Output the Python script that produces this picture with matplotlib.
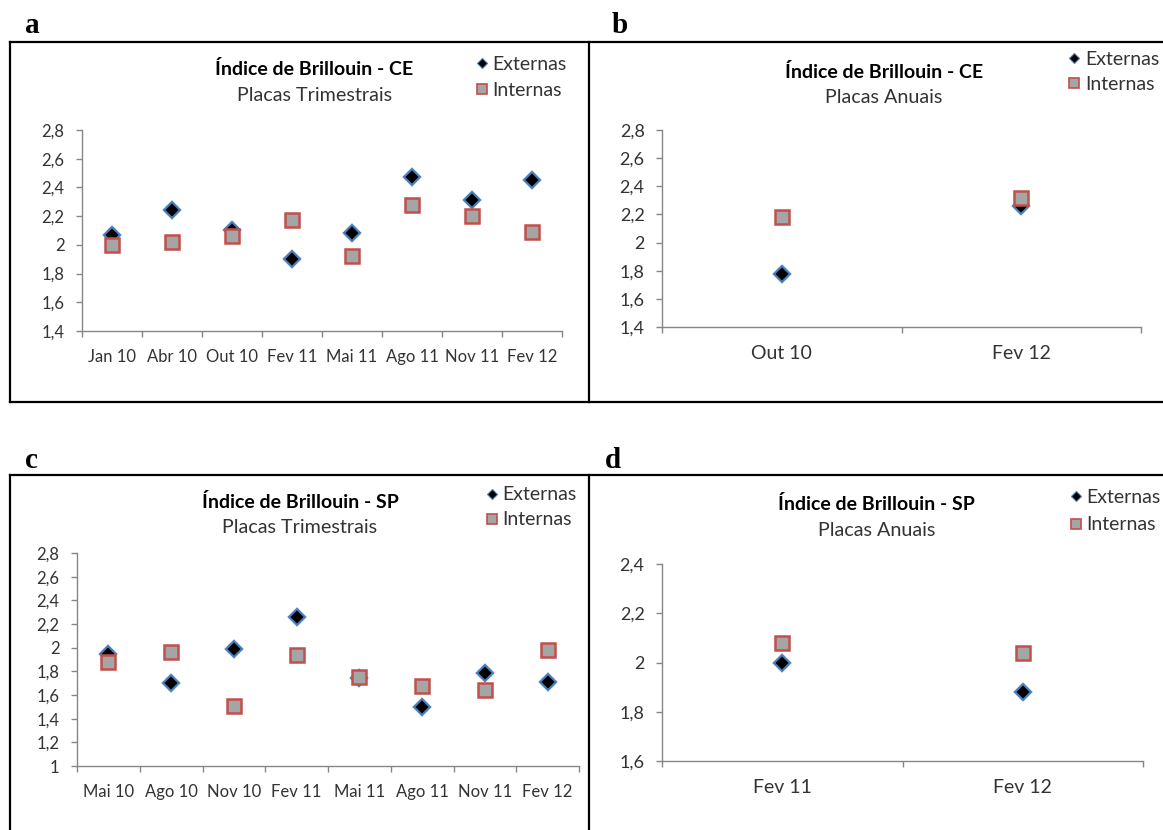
import numpy as np
import matplotlib
matplotlib.use("Agg")
import matplotlib.pyplot as plt
from matplotlib.lines import Line2D
from matplotlib.ticker import FuncFormatter

# ---- dados ----
cats_a = ["Jan 10", "Abr 10", "Out 10", "Fev 11", "Mai 11", "Ago 11", "Nov 11", "Fev 12"]
ext_a = [2.07, 2.24, 2.10, 1.90, 2.08, 2.47, 2.31, 2.45]
int_a = [2.00, 2.02, 2.06, 2.17, 1.92, 2.28, 2.20, 2.09]

cats_b = ["Out 10", "Fev 12"]
ext_b = [1.78, 2.26]
int_b = [2.18, 2.32]

cats_c = ["Mai 10", "Ago 10", "Nov 10", "Fev 11", "Mai 11", "Ago 11", "Nov 11", "Fev 12"]
ext_c = [1.95, 1.70, 1.99, 2.26, 1.74, 1.50, 1.79, 1.71]
int_c = [1.88, 1.96, 1.51, 1.94, 1.75, 1.68, 1.64, 1.98]

cats_d = ["Fev 11", "Fev 12"]
ext_d = [2.00, 1.88]
int_d = [2.08, 2.04]

W, H = 1163, 830
FONT = "Lato"
AXIS_GRAY = "#868686"
TEXT_GRAY = "#333333"
DIAM_EDGE = "#4a7ebb"
DIAM_GLOW = "#8db3e2"
SQ_FACE = "#a5a5a5"
SQ_EDGE = "#c0504d"

plt.rcParams["font.family"] = [FONT, "DejaVu Sans"]

fig = plt.figure(figsize=(W / 100, H / 100), dpi=100)


def fx(px):
    return px / W


def fy(py):
    return 1 - py / H


def fmt_comma(v, pos):
    s = f"{v:.1f}".rstrip("0").rstrip(".")
    return s.replace(".", ",")


def draw_panel(box, cats, ext, intern, ylim, title, subtitle, title_pos, legend_pos,
               ytick_size=12, xtick_size=12):
    x0, y_top, x1, y_bot = box
    ax = fig.add_axes([fx(x0), fy(y_bot), fx(x1 - x0), (y_bot - y_top) / H])
    n = len(cats)
    xs = np.arange(n)

    # losangos com brilho azul, quadrados cinza com borda vermelha
    ax.plot(xs, ext, ls="none", marker="D", ms=10.5, color=DIAM_GLOW,
            alpha=0.55, mew=0, zorder=3, clip_on=False)
    ax.plot(xs, ext, ls="none", marker="D", ms=8.3, mfc="black", mec=DIAM_EDGE,
            mew=1.5, zorder=4, clip_on=False)
    ax.plot(xs, intern, ls="none", marker="s", ms=9.8, mfc=SQ_FACE, mec=SQ_EDGE,
            mew=1.8, zorder=5, clip_on=False)

    ax.set_xlim(-0.5, n - 0.5)
    ax.set_ylim(*ylim)
    ax.set_yticks(np.round(np.arange(ylim[0], ylim[1] + 0.01, 0.2), 1))
    ax.yaxis.set_major_formatter(FuncFormatter(fmt_comma))

    ax.set_xticks(np.arange(n + 1) - 0.5)
    ax.set_xticklabels([])
    ax.set_xticks(xs, minor=True)
    ax.set_xticklabels(cats, minor=True)

    for side in ("top", "right"):
        ax.spines[side].set_visible(False)
    for side in ("left", "bottom"):
        ax.spines[side].set_color(AXIS_GRAY)
        ax.spines[side].set_linewidth(1.0)

    ax.tick_params(axis="y", which="major", direction="out", length=4.5, width=1.0,
                   color=AXIS_GRAY, pad=8, labelsize=ytick_size, labelcolor=TEXT_GRAY)
    ax.tick_params(axis="x", which="major", direction="out", length=4.5, width=1.0,
                   color=AXIS_GRAY)
    ax.tick_params(axis="x", which="minor", length=0, pad=13, labelsize=xtick_size,
                   labelcolor=TEXT_GRAY)
    ax.patch.set_visible(False)

    tx, tb, sb = title_pos
    fig.text(fx(tx), fy(tb), title, ha="center", va="baseline", fontsize=14,
             fontweight="bold", color="black")
    fig.text(fx(tx), fy(sb), subtitle, ha="center", va="baseline", fontsize=14.2,
             color=TEXT_GRAY)

    mx, tx0, rows = legend_pos
    (ey, eb), (iy, ib) = rows
    fig.add_artist(Line2D([fx(mx)], [fy(ey)], ls="none", marker="D", ms=5.5,
                          mfc="black", mec=DIAM_EDGE, mew=0.8))
    fig.add_artist(Line2D([fx(mx)], [fy(iy)], ls="none", marker="s", ms=7.2,
                          mfc=SQ_FACE, mec=SQ_EDGE, mew=1.2))
    fig.text(fx(tx0), fy(eb), "Externas", ha="left", va="baseline", fontsize=14,
             color=TEXT_GRAY)
    fig.text(fx(tx0), fy(ib), "Internas", ha="left", va="baseline", fontsize=14,
             color=TEXT_GRAY)
    return ax


draw_panel((82, 130, 562, 331), cats_a, ext_a, int_a, (1.4, 2.8),
           "Índice de Brillouin - CE", "Placas Trimestrais", (314.5, 75, 101),
           (482, 492, ((63, 69.5), (89, 96))))
draw_panel((662, 130, 1141, 327), cats_b, ext_b, int_b, (1.4, 2.8),
           "Índice de Brillouin - CE", "Placas Anuais", (884, 78, 103),
           (1074, 1085, ((58, 65), (83, 89.5))), ytick_size=13, xtick_size=14)
draw_panel((77, 553, 579, 766), cats_c, ext_c, int_c, (1.0, 2.8),
           "Índice de Brillouin - SP", "Placas Trimestrais", (300, 508, 533),
           (492, 502, ((494, 500), (519, 525))))
draw_panel((662, 564, 1143, 761), cats_d, ext_d, int_d, (1.6, 2.4),
           "Índice de Brillouin - SP", "Placas Anuais", (876.5, 510, 536),
           (1076, 1086, ((496, 503), (524, 530))), ytick_size=13, xtick_size=14)

# molduras pretas dos quadros
frame_lines = [
    ((10, 1163), (42, 42)),
    ((10, 1163), (402, 402)),
    ((10, 1163), (475, 475)),
    ((10, 10), (42, 402)),
    ((589, 589), (42, 402)),
    ((10, 10), (475, 830)),
    ((589, 589), (475, 830)),
]
for xs_px, ys_px in frame_lines:
    fig.add_artist(Line2D([fx(v) for v in xs_px], [fy(v) for v in ys_px],
                          color="black", lw=1.6, solid_capstyle="projecting"))

# letras dos painéis
for letter, lx, ly in [("a", 25, 33), ("b", 612, 33), ("c", 25, 468), ("d", 605, 468)]:
    fig.text(fx(lx), fy(ly), letter, ha="left", va="baseline", fontsize=21,
             fontweight="bold", family="Liberation Serif", color="black")

fig.savefig("out.png", dpi=100, facecolor="white")
